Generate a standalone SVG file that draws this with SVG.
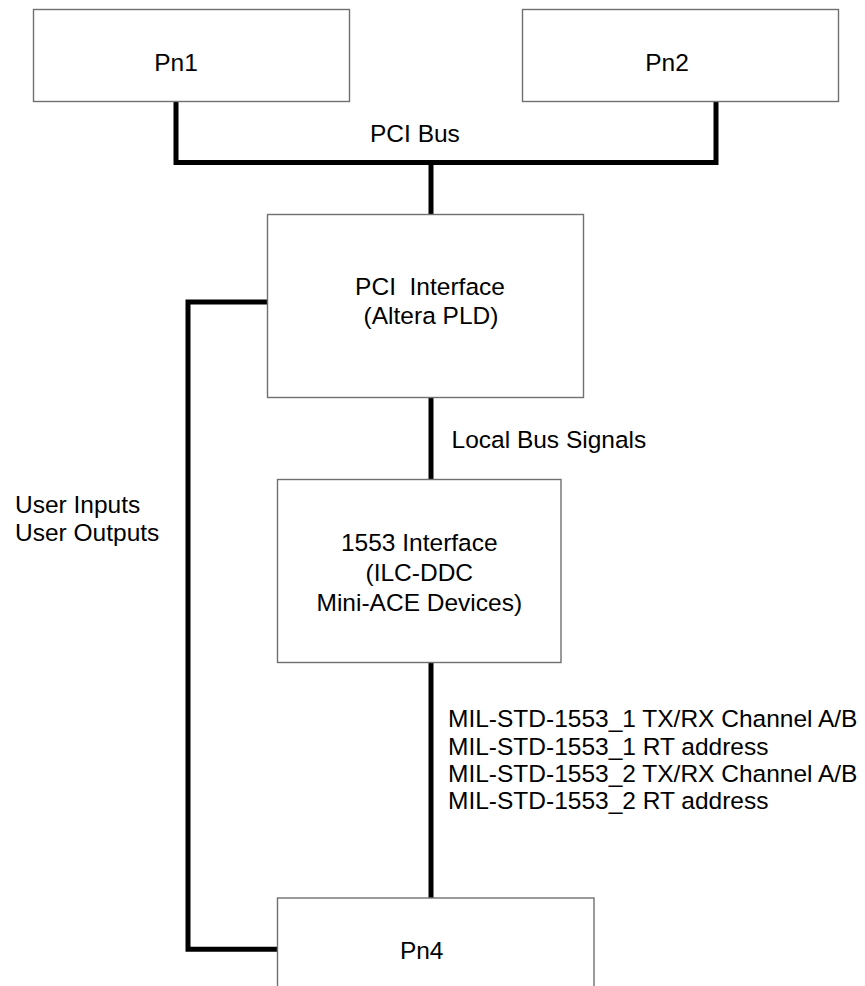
<svg xmlns="http://www.w3.org/2000/svg" width="865" height="986" viewBox="0 0 865 986">
<style>
.box{fill:#ffffff;stroke:#707070;stroke-width:1.4}
.lbl{font-family:"Liberation Sans",Arial,sans-serif;font-size:24.5px;fill:#000000}
.c{text-anchor:middle}
.wire{fill:none;stroke:#000000;stroke-width:5;stroke-linejoin:miter;stroke-linecap:butt}
</style>
<rect width="865" height="986" fill="#ffffff"/>
<g id="connectors">
<path class="wire" d="M176,102 V162.5 H716 V102"/>
<path class="wire" d="M431,162.5 V214"/>
<path class="wire" d="M431,398 V479"/>
<path class="wire" d="M431,663 V898"/>
<path class="wire" d="M267,302 H188 V949.3 H277"/>
</g>
<g id="pn1">
<rect class="box" x="33.5" y="9.5" width="316" height="92"/>
<text class="lbl c" x="176" y="71">Pn1</text>
</g>
<g id="pn2">
<rect class="box" x="522.5" y="9.5" width="316" height="92"/>
<text class="lbl c" x="667" y="71">Pn2</text>
</g>
<g id="pci-bus-label">
<text class="lbl" x="370" y="142">PCI Bus</text>
</g>
<g id="pci-interface">
<rect class="box" x="267.5" y="214.5" width="316" height="183"/>
<text class="lbl c" x="430" y="295" xml:space="preserve">PCI  Interface</text>
<text class="lbl c" x="431" y="323.5">(Altera PLD)</text>
</g>
<g id="local-bus-label">
<text class="lbl" x="451.5" y="447.5">Local Bus Signals</text>
</g>
<g id="user-io-label">
<text class="lbl" x="15" y="512.5">User Inputs</text>
<text class="lbl" x="15" y="541">User Outputs</text>
</g>
<g id="interface-1553">
<rect class="box" x="277.5" y="479.5" width="283.5" height="183"/>
<text class="lbl c" x="419.3" y="551">1553 Interface</text>
<text class="lbl c" x="419.3" y="580.5">(ILC-DDC</text>
<text class="lbl c" x="419.3" y="610.5">Mini-ACE Devices)</text>
</g>
<g id="mil-label">
<text class="lbl" x="448" y="727">MIL-STD-1553_1 TX/RX Channel A/B</text>
<text class="lbl" x="448" y="754.5">MIL-STD-1553_1 RT address</text>
<text class="lbl" x="448" y="782">MIL-STD-1553_2 TX/RX Channel A/B</text>
<text class="lbl" x="448" y="809">MIL-STD-1553_2 RT address</text>
</g>
<g id="pn4">
<rect class="box" x="277.5" y="898" width="316.5" height="100"/>
<text class="lbl c" x="421.7" y="958.5">Pn4</text>
</g>
</svg>
